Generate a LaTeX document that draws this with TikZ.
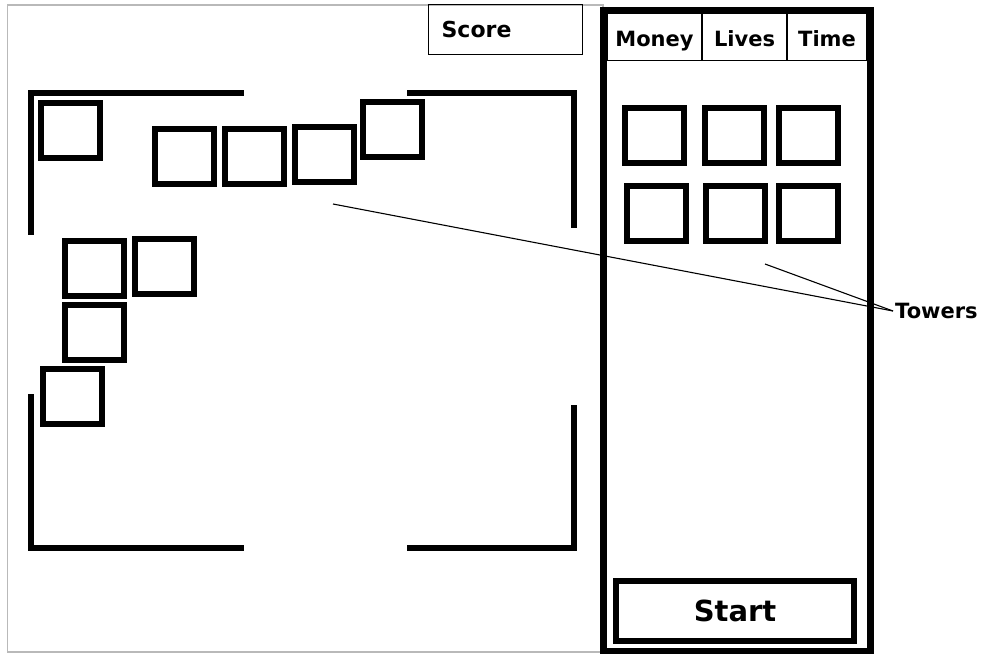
\documentclass[tikz,border=0pt]{standalone}
\usepackage{fontspec}
\setmainfont{DejaVu Sans}
\begin{document}
\begin{tikzpicture}[x=1pt,y=-1pt,
  tower/.style={draw, line width=6pt, minimum width=59pt, minimum height=55pt, inner sep=0pt},
  wall/.style={line width=6pt, line cap=rect},
  cell/.style={draw, line width=1.3pt, minimum height=47pt, inner sep=0pt,
               text height=20pt, text depth=2pt, font=\fontsize{21}{24}\selectfont\bfseries},
  thinline/.style={line width=1.1pt}]
\useasboundingbox (0,0) rectangle (987,653);
% outer frame of the field
\draw[gray!55, line width=1.5pt] (7.5,5) rectangle (603,652);
% walls
\draw[wall] (31,232) -- (31,93) -- (241,93);
\draw[wall] (410,93) -- (574,93) -- (574,225);
\draw[wall] (31,397) -- (31,548) -- (241,548);
\draw[wall] (410,548) -- (574,548) -- (574,408);
% towers on the field
\node[tower] (a) at (70,130) {};
\node[tower] (b) at (184.5,156) {};
\node[tower] (c) at (254,156) {};
\node[tower] (d) at (324,154) {};
\node[tower] (e) at (392.5,129) {};
\node[tower] (f) at (94.5,268) {};
\node[tower] (g) at (164.5,266) {};
\node[tower] (h) at (94.5,332.5) {};
\node[tower] (i) at (72,396.5) {};
% score
\node[draw, line width=1.3pt, anchor=north west, minimum width=154pt, minimum height=50pt,
      text width=128pt, align=left, inner xsep=13pt, inner ysep=0pt,
      text height=18pt, text depth=2pt,
      font=\fontsize{22}{25}\selectfont\bfseries] (score) at (428,4) {Score};
% side panel
\draw[line width=7pt] (603.5,10) rectangle (870,651);
\node[cell, minimum width=95pt] (money) at (654.5,37) {Money};
\node[cell, minimum width=85pt] (lives) at (744.5,37) {Lives};
\node[cell, minimum width=80pt] (time) at (827,37) {Time};
% tower palette
\node[tower] (p1) at (654,135.5) {};
\node[tower] (p2) at (734,135.5) {};
\node[tower] (p3) at (808.5,135.5) {};
\node[tower] (p4) at (656.5,213.5) {};
\node[tower] (p5) at (735.5,213.5) {};
\node[tower] (p6) at (808,213.5) {};
% start button
\node[draw, line width=6pt, minimum width=238pt, minimum height=60pt, inner sep=0pt,
      font=\fontsize{29}{33}\selectfont\bfseries] (start) at (735,611) {Start};
% towers label
\node[anchor=west, inner sep=2pt, font=\fontsize{21}{24}\selectfont\bfseries] (towers) at (893,311) {Towers};
\coordinate (t1) at (333,204);
\coordinate (t2) at (765,264);
\draw[thinline] (t1) -- (towers.west);
\draw[thinline] (t2) -- (towers.west);
\end{tikzpicture}
\end{document}
